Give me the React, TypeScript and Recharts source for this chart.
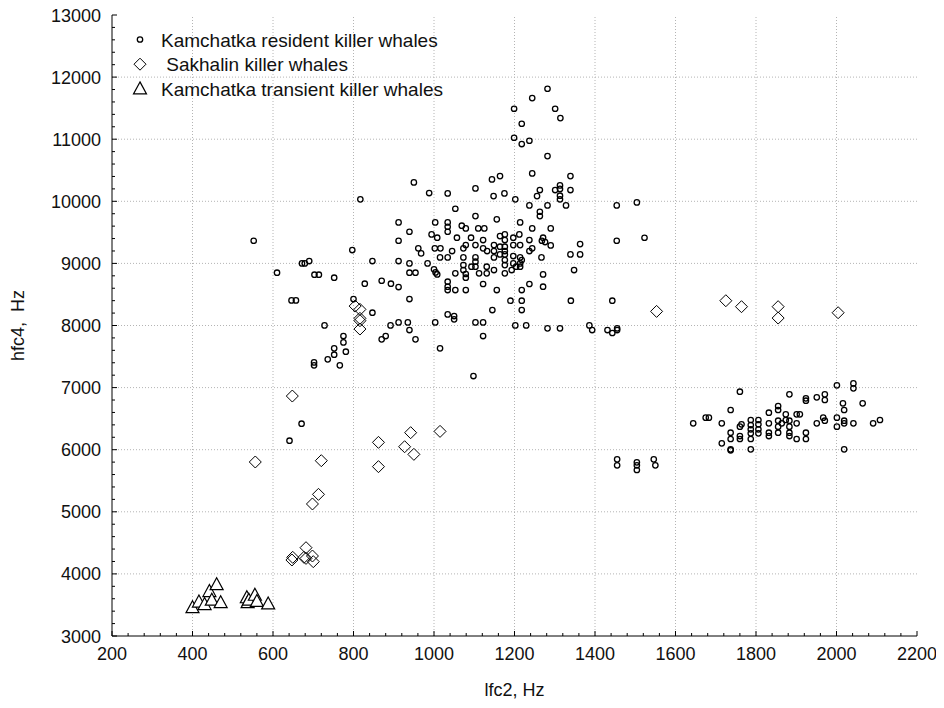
import React from 'react';
import { ScatterChart, Scatter, XAxis, YAxis, ReferenceLine, Legend } from 'recharts';

const FONT = "'Liberation Sans', Arial, Helvetica, sans-serif";
const TEXT = '#111';

// ---- axis tick labels ----
const xMajorTicks = [200, 400, 600, 800, 1000, 1200, 1400, 1600, 1800, 2000, 2200];
const yMajorTicks = [3000, 4000, 5000, 6000, 7000, 8000, 9000, 10000, 11000, 12000, 13000];
const MINOR_DIVISIONS = 5;

const xTitle = 'lfc2, Hz';
const yTitle = 'hfc4,  Hz';

// ---- series names ----
const residentName = 'Kamchatka resident killer whales';
const sakhalinName = ' Sakhalin killer whales';
const transientName = 'Kamchatka transient killer whales';

// ---- data: [lfc2, hfc4] ----
const residentWest: number[][] = [
  [950, 10304], [817, 10031], [988, 10133], [912, 9660], [939, 9510], [552, 9365], [912, 9365],
  [797, 9215], [961, 9242], [968, 9161], [672, 9000], [679, 9000], [690, 9038], [847, 9038],
  [912, 9038], [939, 9000], [984, 9000], [610, 8850], [703, 8818], [714, 8818], [752, 8770],
  [828, 8673], [870, 8721], [893, 8673], [912, 8619], [939, 8850], [954, 8850], [646, 8404],
  [657, 8404], [800, 8426], [939, 8426],
];

const residentCore: number[][] = [
  [1282, 10728], [1244, 10449], [1144, 10353], [1164, 10406], [1339, 10406], [1034, 10127],
  [1103, 10208], [1148, 10084], [1175, 10127], [1202, 10031], [1263, 10181], [1256, 10084],
  [1301, 10181], [1313, 10256], [1313, 10200], [1313, 10090], [1313, 10031], [1339, 10181],
  [1237, 9934], [1282, 9934], [1328, 9934], [1454, 9934], [1053, 9880], [1263, 9832],
  [1263, 9762], [1103, 9762], [1156, 9709], [1214, 9660], [1003, 9660], [1034, 9660],
  [1034, 9590], [1034, 9510], [1069, 9607], [1079, 9564], [1110, 9564], [1125, 9564],
  [1244, 9564], [1290, 9564], [994, 9467], [1008, 9414], [1057, 9414], [1092, 9414],
  [1122, 9376], [1164, 9440], [1176, 9467], [1176, 9376], [1197, 9414], [1212, 9467],
  [1237, 9376], [1271, 9414], [1268, 9365], [1276, 9344], [1290, 9290], [1363, 9311],
  [1454, 9365], [1002, 9242], [1016, 9242], [1045, 9199], [1073, 9242], [1079, 9295],
  [1103, 9295], [1122, 9242], [1132, 9199], [1149, 9295], [1149, 9199], [1164, 9269],
  [1176, 9269], [1176, 9199], [1197, 9295], [1214, 9295], [1244, 9242], [1237, 9199],
  [1267, 9097], [1339, 9145], [1363, 9145], [1015, 9097], [1034, 9097], [1073, 9097],
  [1103, 9097], [1103, 9027], [1149, 9097], [1164, 9145], [1176, 9145], [1176, 9054],
  [1197, 9118], [1214, 9097], [1197, 9000], [1214, 9000], [1218, 9054], [1000, 8904],
  [1004, 8855], [1008, 8823], [1053, 8840], [1073, 8973], [1073, 8893], [1079, 8829],
  [1079, 8770], [1093, 8947], [1103, 8947], [1112, 8840], [1131, 8947], [1131, 8840],
  [1149, 8893], [1176, 8973], [1176, 8840], [1193, 8893], [1204, 8947], [1214, 8947],
  [1271, 8823], [1348, 8893], [1271, 8625], [1034, 8705], [1034, 8625], [1034, 8571],
  [1053, 8571], [1079, 8571], [1122, 8668], [1156, 8571], [1218, 8571], [1237, 8668],
];

const residentHigh: number[][] = [
  [1282, 11812], [1244, 11662], [1199, 11490], [1301, 11490], [1314, 11340], [1218, 11249],
  [1199, 11023], [1218, 10922], [1237, 10975], [1504, 9982], [1523, 9413],
];

const residentLower: number[][] = [
  [847, 8206], [1145, 8249], [728, 8002], [892, 8002], [912, 8050], [935, 8050], [939, 7927],
  [870, 7777], [880, 7830], [954, 7777], [1003, 8050], [1034, 8179], [1050, 8152], [1050, 8099],
  [1103, 8050], [1122, 8050], [1122, 7830], [1015, 7632], [1098, 7186], [775, 7830], [775, 7728],
  [752, 7632], [752, 7530], [781, 7578], [736, 7455], [766, 7358], [702, 7406], [702, 7358],
  [671, 6419], [641, 6145], [1190, 8399], [1218, 8399], [1218, 8249], [1340, 8399], [1443, 8399],
  [1202, 8002], [1229, 8002], [1282, 7954], [1313, 7954], [1386, 8002], [1393, 7927],
  [1431, 7927], [1443, 7879], [1455, 7927], [1455, 7954],
  [1455, 5845], [1455, 5748], [1504, 5796], [1504, 5748], [1504, 5673], [1546, 5845], [1550, 5748],
];

const residentEast: number[][] = [
  [1644, 6424], [1675, 6516], [1683, 6516], [1715, 6424], [1737, 6639], [1760, 6934], [1737, 6274],
  [1737, 6172], [1737, 6006], [1737, 5990], [1715, 6102], [1760, 6371], [1764, 6408], [1760, 6220],
  [1760, 6172], [1787, 6478], [1787, 6397], [1787, 6328], [1787, 6263], [1787, 6172], [1787, 6006],
  [1806, 6478], [1806, 6408], [1806, 6328], [1806, 6263], [1832, 6596], [1832, 6424], [1832, 6274],
  [1832, 6220], [1855, 6703], [1855, 6639], [1855, 6467], [1855, 6371], [1855, 6274], [1874, 6569],
  [1874, 6478], [1883, 6891], [1883, 6467], [1883, 6371], [1883, 6274], [1883, 6220], [1864, 6424],
  [1901, 6569], [1909, 6569], [1901, 6424], [1901, 6172], [1924, 6827], [1924, 6789], [1924, 6274],
  [1924, 6172], [1951, 6843], [1971, 6891], [1971, 6800], [1951, 6424], [1967, 6516], [1971, 6467],
  [2001, 7036], [2001, 6516], [2001, 6371], [2016, 6746], [2019, 6639], [2019, 6467], [2019, 6424],
  [2019, 6006], [2042, 7068], [2042, 6988], [2042, 6424], [2065, 6746], [2091, 6424], [2108, 6478],
];

const sakhalin: number[][] = [
  [804, 8313], [816, 8260], [816, 8115], [816, 8077], [816, 7943], [648, 6864], [556, 5802],
  [720, 5823], [862, 6118], [862, 5727], [942, 6274], [927, 6048], [950, 5925], [1015, 6295],
  [713, 5281], [698, 5126], [649, 4267], [647, 4224], [682, 4422], [677, 4267], [682, 4250],
  [698, 4288], [700, 4197], [1553, 8227], [1725, 8399], [1764, 8303], [1855, 8303], [1855, 8120],
  [2004, 8206],
];

const transient: number[][] = [
  [400, 3440], [416, 3530], [430, 3490], [442, 3700], [448, 3560], [460, 3810], [470, 3520],
  [535, 3600], [537, 3520], [540, 3560], [555, 3640], [560, 3540], [588, 3500],
];

// ---- helpers ----
const toPoints = (arr: number[][]) => arr.map(([x, y]) => ({ x, y }));
const withMinor = (majors: number[]) => {
  const out: number[] = [];
  for (let i = 0; i < majors.length; i++) {
    out.push(majors[i]);
    if (i < majors.length - 1) {
      const step = (majors[i + 1] - majors[i]) / MINOR_DIVISIONS;
      for (let k = 1; k < MINOR_DIVISIONS; k++) out.push(majors[i] + k * step);
    }
  }
  return out;
};

const residentData = toPoints([
  ...residentWest, ...residentCore, ...residentHigh, ...residentLower, ...residentEast,
]);
const sakhalinData = toPoints(sakhalin);
const transientData = toPoints(transient);

const xTicks = withMinor(xMajorTicks);
const yTicks = withMinor(yMajorTicks);
const xGrid = xMajorTicks.slice(1, -1);
const yGrid = yMajorTicks.slice(1, -1);

const MAJOR_LEN = 5;
const MINOR_LEN = 3;

// ---- marks ----
const CircleMark = (p: any) => (
  <circle cx={p.cx} cy={p.cy} r={2.7} fill="none" stroke="#000" strokeWidth={1.3} />
);
const DiamondMark = (p: any) => {
  const s = 6;
  return (
    <path
      d={`M${p.cx},${p.cy - s}L${p.cx + s},${p.cy}L${p.cx},${p.cy + s}L${p.cx - s},${p.cy}Z`}
      fill="none"
      stroke="#000"
      strokeWidth={1}
    />
  );
};
const TriangleMark = (p: any) => {
  const w = 6.5;
  const h = 12;
  return (
    <path
      d={`M${p.cx},${p.cy - (2 * h) / 3}L${p.cx + w},${p.cy + h / 3}L${p.cx - w},${p.cy + h / 3}Z`}
      fill="#fff"
      stroke="#000"
      strokeWidth={1.2}
    />
  );
};

// ---- ticks ----
const BottomTick = (p: any) => {
  const major = xMajorTicks.includes(p.payload.value);
  return (
    <g>
      <line x1={p.x} y1={p.y} x2={p.x} y2={p.y - (major ? MAJOR_LEN : MINOR_LEN)} stroke="#000" />
      {major && (
        <text x={p.x} y={p.y + 24} textAnchor="middle" fontSize={18} fill={TEXT} fontFamily={FONT}>
          {p.payload.value}
        </text>
      )}
    </g>
  );
};
const TopTick = (p: any) => {
  const major = xMajorTicks.includes(p.payload.value);
  return <line x1={p.x} y1={p.y} x2={p.x} y2={p.y + (major ? MAJOR_LEN : MINOR_LEN)} stroke="#000" />;
};
const LeftTick = (p: any) => {
  const major = yMajorTicks.includes(p.payload.value);
  return (
    <g>
      <line x1={p.x} y1={p.y} x2={p.x + (major ? MAJOR_LEN : MINOR_LEN)} y2={p.y} stroke="#000" />
      {major && (
        <text x={p.x - 11} y={p.y + 6.5} textAnchor="end" fontSize={18} fill={TEXT} fontFamily={FONT}>
          {p.payload.value}
        </text>
      )}
    </g>
  );
};
const RightTick = (p: any) => {
  const major = yMajorTicks.includes(p.payload.value);
  return <line x1={p.x} y1={p.y} x2={p.x - (major ? MAJOR_LEN : MINOR_LEN)} y2={p.y} stroke="#000" />;
};

const XTitle = (p: any) => {
  const vb = p.viewBox;
  return (
    <text x={vb.x + vb.width / 2} y={vb.y + 60} textAnchor="middle" fontSize={18} fill={TEXT} fontFamily={FONT}>
      {xTitle}
    </text>
  );
};
const YTitle = (p: any) => {
  const vb = p.viewBox;
  const cx = vb.x + 18;
  const cy = vb.y + vb.height / 2;
  return (
    <text
      transform={`translate(${cx},${cy}) rotate(-90)`}
      textAnchor="middle"
      dominantBaseline="central"
      fontSize={18}
      fill={TEXT}
      fontFamily={FONT}
      style={{ whiteSpace: 'pre' }}
    >
      {yTitle}
    </text>
  );
};

const legendItems = [
  { name: residentName, mark: CircleMark },
  { name: sakhalinName, mark: DiamondMark },
  { name: transientName, mark: TriangleMark },
];

const LegendContent = () => (
  <svg width={360} height={82} style={{ display: 'block' }}>
    {legendItems.map((it, i) => {
      const cy = 11.5 + i * 24.7;
      const Mark = it.mark;
      return (
        <g key={it.name}>
          <Mark cx={12} cy={i === 2 ? cy + 1 : cy} />
          <text
            x={33}
            y={cy + 7}
            fontSize={19}
            fill={TEXT}
            fontFamily={FONT}
            style={{ whiteSpace: 'pre' }}
          >
            {it.name}
          </text>
        </g>
      );
    })}
  </svg>
);

export default function App() {
  return (
    <div style={{ width: 944, height: 708, margin: '-8px 0 0 -8px', fontFamily: FONT }}>
      <ScatterChart width={944} height={708} margin={{ top: 15, right: 27, bottom: 0, left: 0 }}>
        <XAxis
          xAxisId="b"
          type="number"
          dataKey="x"
          domain={[200, 2200]}
          allowDataOverflow
          ticks={xTicks}
          interval={0}
          tickSize={0}
          tickMargin={0}
          tickLine={false}
          tick={BottomTick}
          axisLine={{ stroke: '#000', strokeWidth: 1 }}
          height={72}
          label={XTitle}
        />
        <XAxis
          xAxisId="t"
          orientation="top"
          type="number"
          dataKey="x"
          domain={[200, 2200]}
          allowDataOverflow
          ticks={xTicks}
          interval={0}
          tickSize={0}
          tickMargin={0}
          tickLine={false}
          tick={TopTick}
          axisLine={{ stroke: '#000', strokeWidth: 1 }}
          height={0}
        />
        <YAxis
          yAxisId="l"
          type="number"
          dataKey="y"
          domain={[3000, 13000]}
          allowDataOverflow
          ticks={yTicks}
          interval={0}
          tickSize={0}
          tickMargin={0}
          tickLine={false}
          tick={LeftTick}
          axisLine={{ stroke: '#000', strokeWidth: 1 }}
          width={112}
          label={YTitle}
        />
        <YAxis
          yAxisId="r"
          orientation="right"
          type="number"
          dataKey="y"
          domain={[3000, 13000]}
          allowDataOverflow
          ticks={yTicks}
          interval={0}
          tickSize={0}
          tickMargin={0}
          tickLine={false}
          tick={RightTick}
          axisLine={{ stroke: '#000', strokeWidth: 1 }}
          width={0}
        />
        {xGrid.map((v) => (
          <ReferenceLine key={'gx' + v} xAxisId="b" yAxisId="l" x={v} stroke="#b4b4b4" strokeDasharray="1 2" />
        ))}
        {yGrid.map((v) => (
          <ReferenceLine key={'gy' + v} xAxisId="b" yAxisId="l" y={v} stroke="#b4b4b4" strokeDasharray="1 2" />
        ))}
        <Scatter
          name={residentName}
          xAxisId="b"
          yAxisId="l"
          data={residentData}
          shape={CircleMark}
          isAnimationActive={false}
        />
        <Scatter
          name={sakhalinName}
          xAxisId="b"
          yAxisId="l"
          data={sakhalinData}
          shape={DiamondMark}
          isAnimationActive={false}
        />
        <Scatter
          name={transientName}
          xAxisId="b"
          yAxisId="l"
          data={transientData}
          shape={TriangleMark}
          isAnimationActive={false}
        />
        <Legend
          layout="vertical"
          align="center"
          verticalAlign="middle"
          content={LegendContent}
          wrapperStyle={{ left: 128, top: 28, width: 360, height: 82 }}
        />
      </ScatterChart>
    </div>
  );
}
